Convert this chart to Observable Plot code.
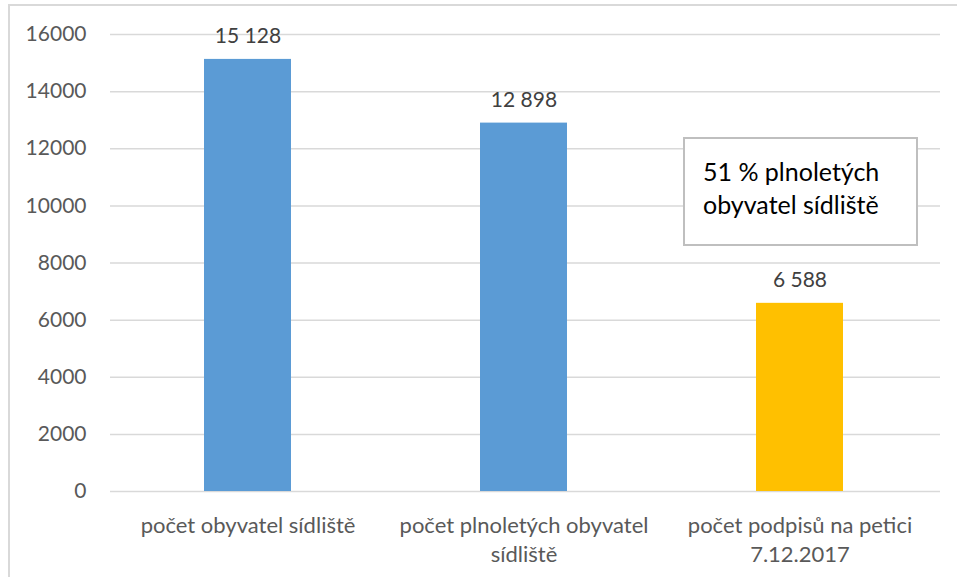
<!DOCTYPE html>
<html>
<head>
<meta charset="utf-8">
<script src="https://cdn.jsdelivr.net/npm/d3@7"></script>
<script src="https://cdn.jsdelivr.net/npm/@observablehq/plot@0.6"></script>
<style>
  body { margin: 0; background: #fff; }
  #wrap { position: relative; width: 957px; height: 577px; overflow: hidden; }
  #frame { position: absolute; left: 8px; top: 4px; width: 960px; height: 600px;
           border-left: 2px solid #d9d9d9; border-top: 2px solid #d9d9d9; pointer-events: none; }
  #note { position: absolute; left: 683px; top: 137px; width: 231px; height: 105px;
          border: 2px solid #bfbfbf; background: #fff; box-sizing: content-box;
          font-family: Lato, "Noto Sans", sans-serif; font-size: 25px; color: #000;
          line-height: 33px; padding: 0; }
  #note div { position: absolute; left: 18px; top: 16px; white-space: nowrap; }
</style>
</head>
<body>
<div id="wrap">
  <div id="chart"></div>
  <div id="frame"></div>
  <div id="note"><div>51 % plnoletých<br>obyvatel sídliště</div></div>
</div>
<script>
const categories = ["počet obyvatel sídliště", "počet plnoletých obyvatel sídliště", "počet podpisů na petici 7.12.2017"];
const categoryLabels = ["počet obyvatel sídliště", "počet plnoletých obyvatel\nsídliště", "počet podpisů na petici\n7.12.2017"];
const values = [15128, 12898, 6588];
const barColors = ["#5B9BD5", "#5B9BD5", "#FFC000"];
const yTicks = [0, 2000, 4000, 6000, 8000, 10000, 12000, 14000, 16000];

const data = categories.map((c, i) => ({category: c, value: values[i], color: barColors[i]}));
const fmt = v => d3.format(",")(v).replace(/,/g, " ");
const labelOf = new Map(categories.map((c, i) => [c, categoryLabels[i]]));

const chart = Plot.plot({
  width: 957,
  height: 577,
  marginLeft: 110,
  marginRight: 17,
  marginTop: 34,
  marginBottom: 86,
  style: { fontFamily: "Lato, 'Noto Sans', sans-serif", background: "transparent", color: "#595959" },
  x: { domain: categories, paddingInner: 0.686, paddingOuter: 0.343, align: 0.49, label: null },
  y: { domain: [0, 16000], ticks: yTicks, label: null },
  marks: [
    Plot.gridY(yTicks, { stroke: "#d9d9d9", strokeOpacity: 1, strokeWidth: 1.5 }),
    Plot.barY(data, { x: "category", y: "value", fill: "color" }),
    Plot.text(data, { x: "category", y: "value", text: d => fmt(d.value), dy: -23,
                      fontSize: 21, fill: "#404040" }),
    Plot.axisY({ ticks: yTicks, tickSize: 0, tickPadding: 24, fontSize: 21, fill: "#595959", tickFormat: d => String(d) }),
    Plot.axisX({ tickSize: 0, tickPadding: 21, fontSize: 22, fill: "#595959", lineHeight: 1.32,
                 tickFormat: d => labelOf.get(d) })
  ]
});
document.getElementById("chart").appendChild(chart);
</script>
</body>
</html>
